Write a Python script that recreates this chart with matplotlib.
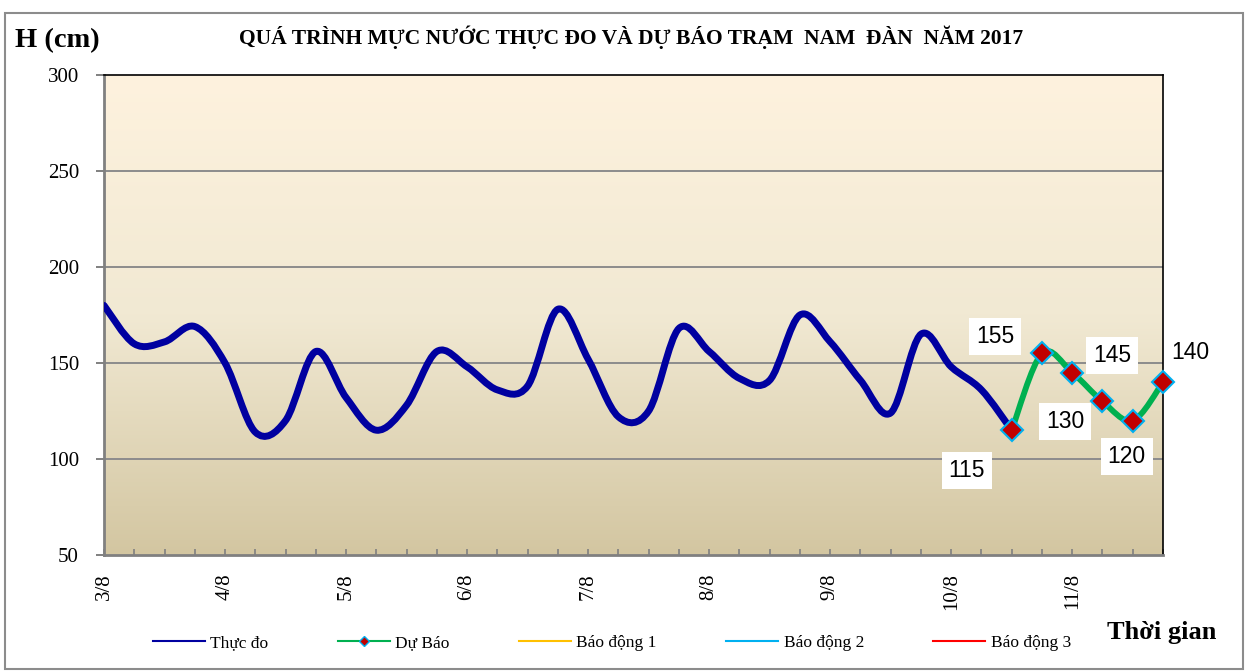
import numpy as np
import matplotlib
matplotlib.use("Agg")
import matplotlib.pyplot as plt
from matplotlib.path import Path
from matplotlib.patches import PathPatch, Rectangle
from matplotlib.lines import Line2D

# ---------------- data ----------------
observed = [180, 160, 161, 169, 150, 114, 120, 156, 132, 115, 128, 156, 148,
            136, 138, 178, 152, 122, 125, 168, 156, 142, 141, 175, 161, 141,
            124, 165, 148, 136, 115]
forecast = [115, 155, 145, 130, 120, 140]
forecast_start = 30
date_labels = ["3/8", "4/8", "5/8", "6/8", "7/8", "8/8", "9/8", "10/8", "11/8"]
label_step = 4
alarm1 = []
alarm2 = []
alarm3 = []
series_names = ["Thực đo", "Dự Báo", "Báo động 1", "Báo động 2", "Báo động 3"]

# ---------------- helpers ----------------
def smooth_path(xs, ys):
    pts = np.column_stack([xs, ys]).astype(float)
    n = len(pts)
    verts = [pts[0]]
    codes = [Path.MOVETO]
    for i in range(n - 1):
        p0 = pts[i - 1] if i > 0 else pts[i]
        p1 = pts[i]
        p2 = pts[i + 1]
        p3 = pts[i + 2] if i + 2 < n else pts[i + 1]
        c1 = p1 + (p2 - p0) / 6.0
        c2 = p2 - (p3 - p1) / 6.0
        verts += [c1, c2, p2]
        codes += [Path.CURVE4] * 3
    return Path(verts, codes)

W, H = 1251, 671
fig = plt.figure(figsize=(W / 100, H / 100), dpi=100)
fig.patch.set_facecolor("white")

x0, x1, y0, y1 = 104, 1163, 75, 555
ax = fig.add_axes([x0 / W, 1 - y1 / H, (x1 - x0) / W, (y1 - y0) / H])

n_total = forecast_start + len(forecast) - 1
ax.set_xlim(0, n_total)
ax.set_ylim(50, 300)

# background gradient
top = np.array([254, 242, 222]) / 255
mid = np.array([241, 233, 211]) / 255
bot = np.array([211, 198, 161]) / 255
t = np.linspace(0, 1, 256)[:, None]
grad = np.where(t < 0.5, top + (mid - top) * (t / 0.5), mid + (bot - mid) * ((t - 0.5) / 0.5))
ax.imshow(grad[:, None, :], extent=[0, n_total, 50, 300], aspect="auto", zorder=0,
          origin="upper", interpolation="bilinear")

# grid
for v in [100, 150, 200, 250]:
    ax.axhline(v, color="#8c8c8c", lw=1.4, zorder=1)

# observed curve
xo = np.arange(len(observed))
ax.add_patch(PathPatch(smooth_path(xo, observed), fill=False, edgecolor="#0000A0",
                       lw=5.0, capstyle="round", joinstyle="round", zorder=3))
# forecast curve
xf = np.arange(forecast_start, forecast_start + len(forecast))
ax.add_patch(PathPatch(smooth_path(xf, forecast), fill=False, edgecolor="#00B050",
                       lw=4.2, capstyle="round", joinstyle="round", zorder=4))
ax.plot(xf, forecast, linestyle="none", marker="D", markersize=11,
        markerfacecolor="#C00000", markeredgecolor="#00B0F0", markeredgewidth=1.5,
        zorder=5, clip_on=False)

# alarm lines (no visible data in range)
ax.plot(np.arange(len(alarm1)), alarm1, color="#FFC000", lw=1.5)
ax.plot(np.arange(len(alarm2)), alarm2, color="#00B0F0", lw=1.5)
ax.plot(np.arange(len(alarm3)), alarm3, color="#FF0000", lw=1.5)

# data labels
offsets = [(-45, -40), (-47, 17), (40, 17), (-37, -20), (-6, -36), (27, 30)]
for xv, yv, (dx, dy) in zip(xf, forecast, offsets):
    ax.annotate(str(yv), (xv, yv), xytext=(dx, dy), textcoords="offset pixels",
                ha="center", va="center", fontsize=16.5, family="Liberation Sans",
                bbox=dict(boxstyle="square,pad=0.3", fc="white", ec="none"), zorder=6,
                annotation_clip=False)

# spines
for s in ["top", "right"]:
    ax.spines[s].set_color("black")
    ax.spines[s].set_linewidth(1.2)
for s in ["left", "bottom"]:
    ax.spines[s].set_color("#808080")
    ax.spines[s].set_linewidth(2.0)

# ticks
ax.set_yticks([50, 100, 150, 200, 250, 300])
ax.set_yticklabels(["50", "100", "150", "200", "250", "300"], family="Liberation Serif", fontsize=15)
ax.tick_params(axis="y", direction="out", length=6, width=1.4, color="#808080", pad=12)

ax.set_xticks(np.arange(0, len(date_labels) * label_step, label_step))
ax.set_xticklabels(date_labels, rotation=90, family="Liberation Serif", fontsize=15, va="top")
ax.set_xticks(np.arange(0, n_total + 1), minor=True)
ax.tick_params(axis="x", which="both", direction="in", length=4, width=1.2, color="#808080", pad=13)

# texts
fig.text(15 / W, 1 - 41 / H, "H (cm)", family="Liberation Serif", fontweight="bold",
         fontsize=20.5, ha="left", va="center")
fig.text(631 / W, 1 - 37 / H, "QUÁ TRÌNH MỰC NƯỚC THỰC ĐO VÀ DỰ BÁO TRẠM  NAM  ĐÀN  NĂM 2017",
         family="Liberation Serif", fontweight="bold", fontsize=15.5, ha="center", va="center")
fig.text(1162 / W, 1 - 632 / H, "Thời gian", family="Liberation Serif", fontweight="bold",
         fontsize=19, ha="center", va="center")

# legend
handles = [
    Line2D([], [], color="#0000A0", lw=1.5),
    Line2D([], [], color="#00B050", lw=1.5, marker="D", markersize=5,
           markerfacecolor="#C00000", markeredgecolor="#00B0F0"),
    Line2D([], [], color="#FFC000", lw=1.5),
    Line2D([], [], color="#00B0F0", lw=1.5),
    Line2D([], [], color="#FF0000", lw=1.5),
]
fig.legend(handles, series_names, loc="center", bbox_to_anchor=(612 / W, 1 - 643 / H),
           ncol=5, frameon=False, prop={"family": "Liberation Serif", "size": 12.5},
           handlelength=3.0, columnspacing=4.0, handletextpad=0.3)

# outer border
fig.add_artist(Rectangle((5 / W, 1 - 669 / H), (1243 - 5) / W, (669 - 13) / H,
                         transform=fig.transFigure, fill=False, ec="#8c8c8c", lw=1.5))

fig.savefig("out.png", dpi=100)
